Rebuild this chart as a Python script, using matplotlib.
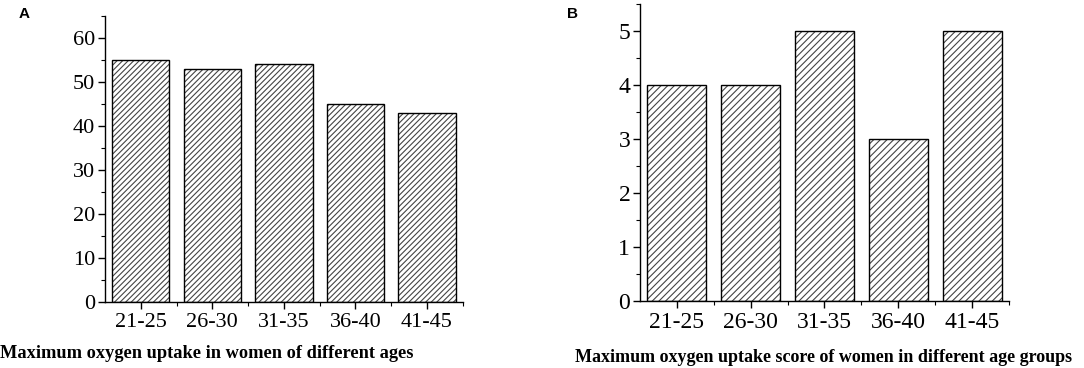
import matplotlib
matplotlib.use('Agg')
import matplotlib.pyplot as plt
from matplotlib.ticker import MultipleLocator, FixedLocator

# data
age_groups = ['21-25', '26-30', '31-35', '36-40', '41-45']
vo2max_values = [55, 53, 54, 45, 43]
vo2max_scores = [4, 4, 5, 3, 5]

xlabel_a = 'Maximum oxygen uptake in women of different ages'
xlabel_b = 'Maximum oxygen uptake score of women in different age groups'

plt.rcParams['font.family'] = ['Liberation Serif', 'DejaVu Serif']
plt.rcParams['hatch.linewidth'] = 0.8
plt.rcParams['hatch.color'] = '#444444'

fig = plt.figure(figsize=(10.84, 3.68), dpi=100)
ax_a = fig.add_axes([0.0969, 0.1793, 0.3300, 0.7772])
ax_b = fig.add_axes([0.5904, 0.1829, 0.3404, 0.8062])


def draw_panel(ax, values, ymax, major, minor, tick_size, hatch):
    x = range(len(values))
    # hatch layer, then outline on top
    ax.bar(x, values, width=0.8, color='white', edgecolor='#444444',
           hatch=hatch, linewidth=0)
    ax.bar(x, values, width=0.8, color='none', edgecolor='black', linewidth=1.0)
    ax.set_xlim(-0.5, len(values) - 0.5)
    ax.set_ylim(0, ymax)
    ax.set_xticks(list(x))
    ax.set_xticklabels(age_groups)
    ax.xaxis.set_minor_locator(FixedLocator([i + 0.5 for i in range(len(values))]))
    ax.yaxis.set_major_locator(MultipleLocator(major))
    ax.yaxis.set_minor_locator(MultipleLocator(minor))
    for s in ['top', 'right']:
        ax.spines[s].set_visible(False)
    for s in ['left', 'bottom']:
        ax.spines[s].set_linewidth(1.0)
    ax.tick_params(which='major', direction='out', length=5, width=1.0,
                   labelsize=tick_size, pad=2)
    ax.tick_params(which='minor', direction='out', length=3, width=0.8)
    ax.tick_params(axis='x', which='major', pad=3)


draw_panel(ax_a, vo2max_values, 65, 10, 5, 16, '//////')
draw_panel(ax_b, vo2max_scores, 5.5, 1, 0.5, 17, '/////')
ax_a.tick_params(axis='x', labelsize=16)

fig.text(207 / 1084, 1 - 353 / 368, xlabel_a, ha='center', va='center',
         fontsize=13.2, fontweight='bold')
fig.text(824 / 1084, 1 - 357 / 368, xlabel_b, ha='center', va='center',
         fontsize=13.0, fontweight='bold')

fig.text(24 / 1084, 1 - 14 / 368, 'A', ha='center', va='center',
         fontsize=11, fontweight='bold', family='Liberation Sans')
fig.text(572 / 1084, 1 - 14 / 368, 'B', ha='center', va='center',
         fontsize=11, fontweight='bold', family='Liberation Sans')

fig.savefig('out.png', dpi=100)
